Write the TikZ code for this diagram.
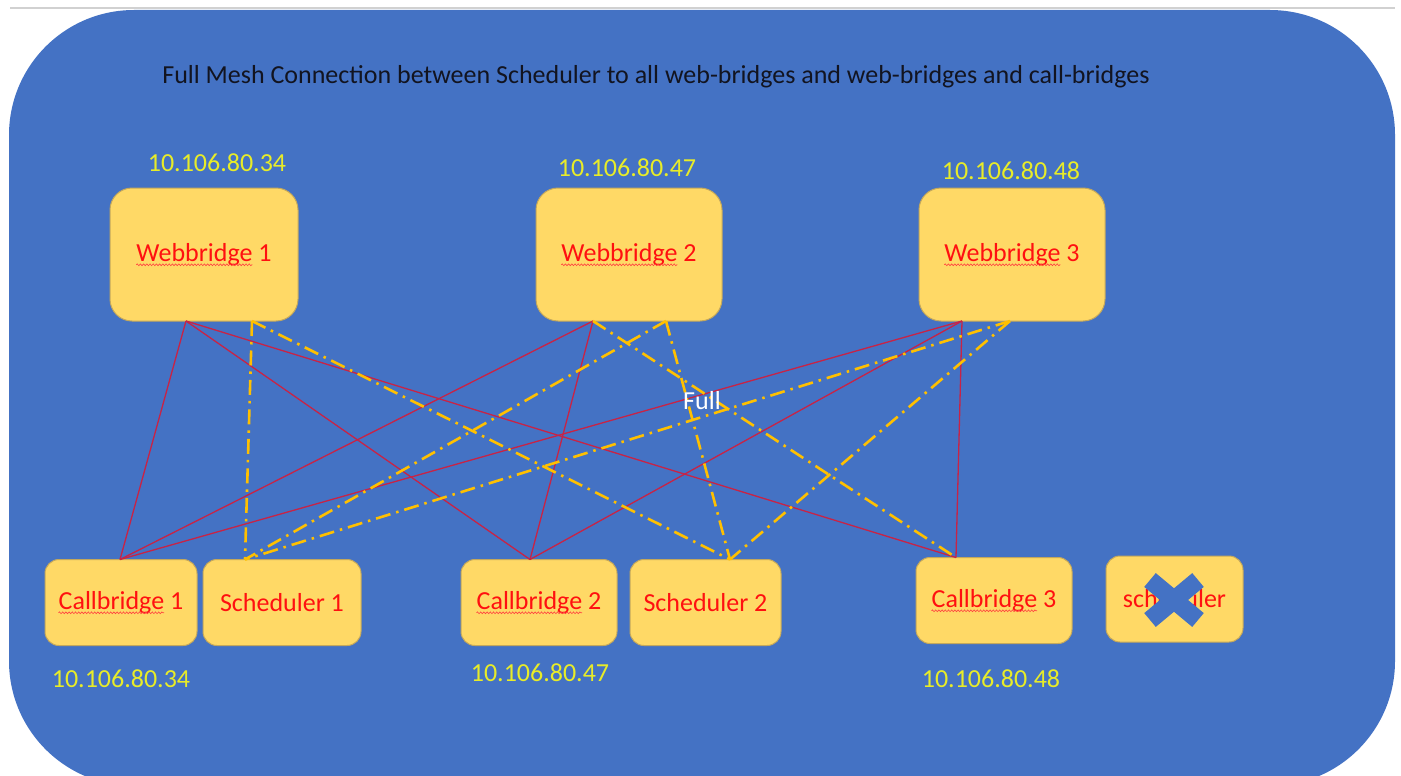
\documentclass[tikz,border=0pt]{standalone}
\usepackage{fontspec}
\setmainfont{Carlito}
\usetikzlibrary{decorations.pathmorphing}

\definecolor{slide}{RGB}{68,114,196}
\definecolor{boxfill}{RGB}{255,217,102}
\definecolor{boxline}{RGB}{196,168,92}
\definecolor{meshred}{RGB}{200,35,70}
\definecolor{meshgold}{RGB}{255,192,0}
\definecolor{iptext}{RGB}{232,236,40}
\definecolor{labelred}{RGB}{255,16,16}
\definecolor{titletext}{RGB}{18,20,32}

\newcommand{\labelfont}{\fontsize{26}{30}\selectfont}
\newlength{\webwd}
\newlength{\callwd}

\tikzset{
  webbox/.style={draw=boxline, fill=boxfill, line width=1, rounded corners=22,
    minimum width=188, minimum height=133},
  hostbox/.style={draw=boxline, fill=boxfill, line width=1, rounded corners=14,
    minimum height=86},
  boxtext/.style={text=labelred, font=\labelfont, inner sep=0},
  iplabel/.style={text=iptext, font=\fontsize{26}{30}\selectfont},
  redlink/.style={draw=meshred, line width=1.3},
  goldlink/.style={draw=meshgold, line width=2.6, dash pattern=on 15 off 6 on 2.5 off 6},
  squiggle/.style={draw=labelred!80!white, line width=0.6,
    decorate, decoration={snake, amplitude=0.9, segment length=3.2}},
}

\begin{document}
\settowidth{\webwd}{\labelfont Webbridge}
\settowidth{\callwd}{\labelfont Callbridge}
\begin{tikzpicture}[x=1pt, y=-1pt]
  \useasboundingbox (0,0) rectangle (1401,776);
  \clip (0,0) rectangle (1401,776);
  \fill[white] (0,0) rectangle (1401,776);
  \draw[black!18, line width=2] (10,8) -- (1395,8);
  % slide panel
  \fill[slide, rounded corners=125] (9,10) rectangle (1395,786);

  % heading
  \node[text=titletext, font=\fontsize{26}{30}\selectfont] (title) at (656,77)
    {Full Mesh Connection between Scheduler to all web-bridges and web-bridges and call-bridges};

  % web bridges
  \node[webbox] (wb1) at (204,254.5) {};
  \node[webbox, minimum width=186] (wb2) at (629,254.5) {};
  \node[webbox, minimum width=186] (wb3) at (1012,254.5) {};
  \node[boxtext] (wb1t) at (wb1.center) {Webbridge 1};
  \node[boxtext] (wb2t) at (wb2.center) {Webbridge 2};
  \node[boxtext] (wb3t) at (wb3.center) {Webbridge 3};
  \foreach \t in {wb1t,wb2t,wb3t}
    \draw[squiggle] ([yshift=-3.5]\t.base west) -- ++(\webwd,0);

  \node[iplabel] (ipw1) at (217,163) {10.106.80.34};
  \node[iplabel] (ipw2) at (627,168) {10.106.80.47};
  \node[iplabel] (ipw3) at (1011,171) {10.106.80.48};

  % call bridges and schedulers
  \node[hostbox, minimum width=152] (cb1) at (121,602.5) {};
  \node[hostbox, minimum width=158] (s1)  at (282,602.5) {};
  \node[hostbox, minimum width=156] (cb2) at (539,602.5) {};
  \node[hostbox, minimum width=151] (s2)  at (705.5,602.5) {};
  \node[hostbox, minimum width=156] (cb3) at (994,600.5) {};
  \node[hostbox, minimum width=137] (sx)  at (1174.5,599) {};
  \node[boxtext] (cb1t) at (cb1.center) {Callbridge 1};
  \node[boxtext] (s1x)  at (s1.center)  {Scheduler 1};
  \node[boxtext] (cb2t) at (cb2.center) {Callbridge 2};
  \node[boxtext] (s2x)  at (s2.center)  {Scheduler 2};
  \node[boxtext] (cb3t) at (cb3.center) {Callbridge 3};
  \node[boxtext] (sxt)  at (sx.center)  {scheduler};
  \foreach \t in {cb1t,cb2t,cb3t}
    \draw[squiggle] ([yshift=-3.5]\t.base west) -- ++(\callwd,0);

  \node[iplabel] (ipc1) at (121,679) {10.106.80.34};
  \node[iplabel] (ipc2) at (540,673) {10.106.80.47};
  \node[iplabel] (ipc3) at (991,679) {10.106.80.48};

  % removed scheduler
  \coordinate (xa) at (1150,580);
  \coordinate (xb) at (1198,620);
  \coordinate (xc) at (1198,580);
  \coordinate (xd) at (1150,620);
  \draw[slide, line width=18] (xa) -- (xb);
  \draw[slide, line width=18] (xc) -- (xd);

  % attachment points
  \coordinate (wb1r) at (186,321);
  \coordinate (wb1y) at (252,321);
  \coordinate (wb2r) at (593,321);
  \coordinate (wb2y) at (666,321);
  \coordinate (wb3r) at (962,321);
  \coordinate (wb3y) at (1010,321);
  \coordinate (cb1p) at (120,559.5);
  \coordinate (s1p)  at (245,559.5);
  \coordinate (cb2p) at (530,559.5);
  \coordinate (s2p)  at (730,559.5);
  \coordinate (cb3p) at (956,557.5);

  % web bridge to call bridge links
  \draw[redlink] (wb1r) -- (cb1p);
  \draw[redlink] (wb1r) -- (cb2p);
  \draw[redlink] (wb1r) -- (cb3p);
  \draw[redlink] (wb2r) -- (cb1p);
  \draw[redlink] (wb2r) -- (cb2p);
  \draw[redlink] (wb3r) -- (cb1p);
  \draw[redlink] (wb3r) -- (cb2p);
  \draw[redlink] (wb3r) -- (cb3p);

  % scheduler links
  \draw[goldlink] (wb1y) -- (s1p);
  \draw[goldlink] (wb1y) -- (s2p);
  \draw[goldlink] (wb2y) -- (s1p);
  \draw[goldlink] (wb2y) -- (s2p);
  \draw[goldlink] (wb2r) -- (cb3p);
  \draw[goldlink] (wb3y) -- (s1p);
  \draw[goldlink] (wb3y) -- (s2p);

  \node[text=white, font=\fontsize{26}{30}\selectfont] (full) at (702,401) {Full};
\end{tikzpicture}
\end{document}
